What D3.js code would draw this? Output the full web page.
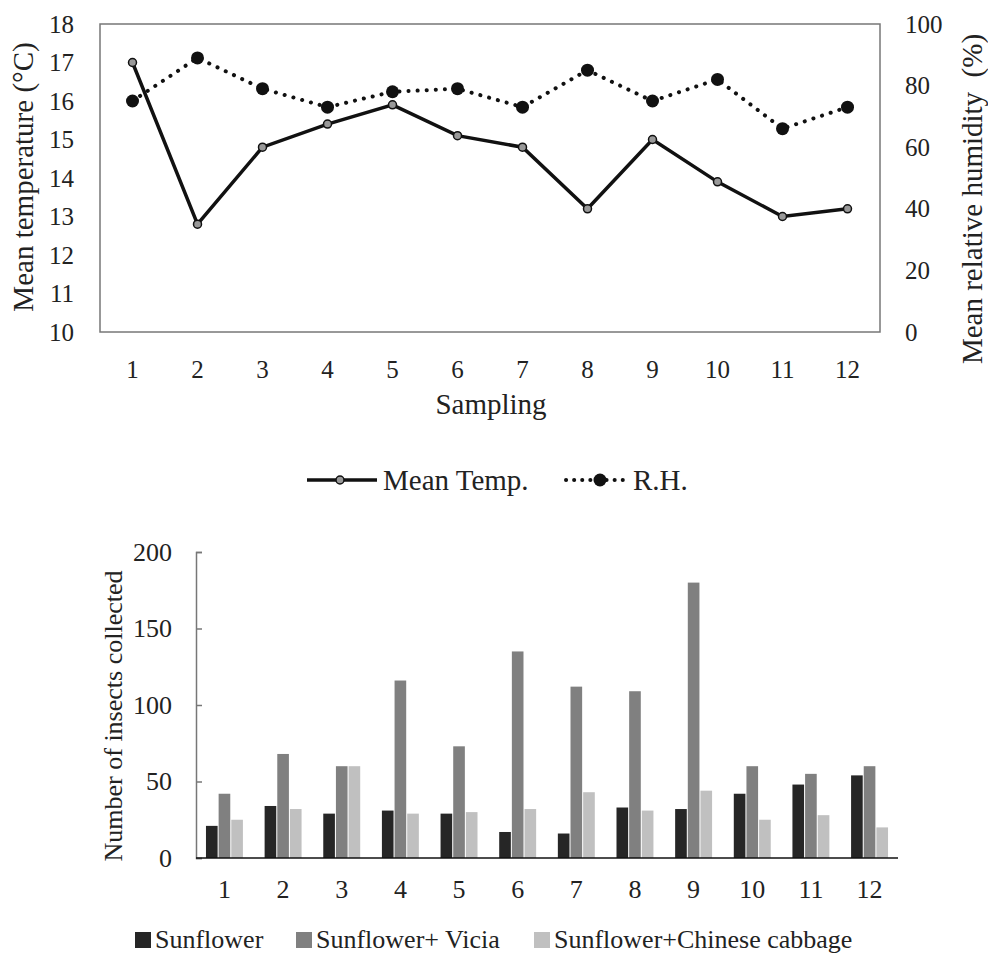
<!DOCTYPE html>
<html>
<head>
<meta charset="utf-8">
<script src="https://d3js.org/d3.v7.min.js"></script>
</head>
<body style="margin:0">
<script>
// ---- data ----
var samplings = ['1','2','3','4','5','6','7','8','9','10','11','12'];
var meanTemp = [17.0, 12.8, 14.8, 15.4, 15.9, 15.1, 14.8, 13.2, 15.0, 13.9, 13.0, 13.2];
var relHum   = [75, 89, 79, 73, 78, 79, 73, 85, 75, 82, 66, 73];

var tempTicks = [10, 11, 12, 13, 14, 15, 16, 17, 18];
var humTicks  = [0, 20, 40, 60, 80, 100];

var treatments = ['Sunflower', 'Sunflower+ Vicia', 'Sunflower+Chinese cabbage'];
var sunflower  = [21, 34, 29, 31, 29, 17, 16, 33, 32, 42, 48, 54];
var sunVicia   = [42, 68, 60, 116, 73, 135, 112, 109, 180, 60, 55, 60];
var sunCabbage = [25, 32, 60, 29, 30, 32, 43, 31, 44, 25, 28, 20];
var insectTicks = [0, 50, 100, 150, 200];
var barColors = ['#262626', '#808080', '#c0c0c0'];

var serif = '"Liberation Serif"';

var svg = d3.select('body').append('svg')
    .attr('width', 988)
    .attr('height', 954)
    .attr('font-family', 'Liberation Serif');

// ================= top chart =================
var box = { left: 100, right: 880, top: 24, bottom: 332 };

var x1 = d3.scaleBand().domain(samplings).range([box.left, box.right]);
var yT = d3.scaleLinear().domain([10, 18]).range([box.bottom, box.top]);
var yH = d3.scaleLinear().domain([0, 100]).range([box.bottom, box.top]);

svg.append('rect')
    .attr('x', box.left).attr('y', box.top)
    .attr('width', box.right - box.left).attr('height', box.bottom - box.top)
    .attr('fill', 'none').attr('stroke', '#777').attr('stroke-width', 1.5);

var axL = svg.append('g').attr('transform', 'translate(' + box.left + ',0)')
    .call(d3.axisLeft(yT).tickValues(tempTicks).tickSize(0).tickPadding(26));
var axR = svg.append('g').attr('transform', 'translate(' + box.right + ',0)')
    .call(d3.axisRight(yH).tickValues(humTicks).tickSize(0).tickPadding(25));
var axB = svg.append('g').attr('transform', 'translate(0,' + box.bottom + ')')
    .call(d3.axisBottom(x1).tickSize(0).tickPadding(28));
[axL, axR, axB].forEach(function (g) {
  g.attr('font-family', null);
  g.select('.domain').remove();
  g.selectAll('text').style('font-size', '25px');
});

svg.append('text')
    .attr('transform', 'translate(33,177) rotate(-90)')
    .attr('text-anchor', 'middle')
    .style('font-size', '29px')
    .text('Mean temperature (°C)');
svg.append('text')
    .attr('transform', 'translate(982,199) rotate(-90)')
    .attr('text-anchor', 'middle')
    .style('font-size', '29px')
    .style('white-space', 'pre')
    .text('Mean relative humidity  (%)');
svg.append('text')
    .attr('x', 491).attr('y', 414)
    .attr('text-anchor', 'middle')
    .style('font-size', '29px')
    .text('Sampling');

var cx = function (d, i) { return x1(samplings[i]) + x1.bandwidth() / 2; };

svg.append('path')
    .datum(relHum)
    .attr('fill', 'none').attr('stroke', '#111')
    .attr('stroke-width', 4).attr('stroke-linecap', 'round')
    .attr('stroke-dasharray', '0.1,9')
    .attr('d', d3.line().x(cx).y(function (d) { return yH(d); }));

svg.append('path')
    .datum(meanTemp)
    .attr('fill', 'none').attr('stroke', '#111').attr('stroke-width', 3.5)
    .attr('d', d3.line().x(cx).y(function (d) { return yT(d); }));

svg.selectAll('.rh').data(relHum).enter().append('circle')
    .attr('class', 'rh')
    .attr('cx', cx).attr('cy', function (d) { return yH(d); })
    .attr('r', 6.5).attr('fill', '#111');

svg.selectAll('.tp').data(meanTemp).enter().append('circle')
    .attr('class', 'tp')
    .attr('cx', cx).attr('cy', function (d) { return yT(d); })
    .attr('r', 4).attr('fill', '#999').attr('stroke', '#111').attr('stroke-width', 1.5);

// legend for the lines
var lg = svg.append('g').attr('transform', 'translate(0,480)');
lg.append('line').attr('x1', 307).attr('x2', 377).attr('stroke', '#111').attr('stroke-width', 3.5);
lg.append('circle').attr('cx', 340).attr('r', 4).attr('fill', '#999').attr('stroke', '#111').attr('stroke-width', 1.5);
lg.append('text').attr('x', 383).attr('y', 10).style('font-size', '29px').text('Mean Temp.');
lg.append('line').attr('x1', 566).attr('x2', 630).attr('stroke', '#111')
    .attr('stroke-width', 4).attr('stroke-linecap', 'round').attr('stroke-dasharray', '0.1,8');
lg.append('circle').attr('cx', 600).attr('r', 6.5).attr('fill', '#111');
lg.append('text').attr('x', 633).attr('y', 10).style('font-size', '29px').text('R.H.');

// ================= bottom chart =================
var bot = { left: 196, right: 898, top: 552, bottom: 858 };

var x2 = d3.scaleBand().domain(samplings).range([bot.left, bot.right]).paddingInner(0.37).paddingOuter(0.17);
var xs = d3.scaleBand().domain(treatments).range([0, x2.bandwidth()]).paddingInner(0.08);
var yN = d3.scaleLinear().domain([0, 200]).range([bot.bottom, bot.top]);

var series = [sunflower, sunVicia, sunCabbage];
var rows = [];
samplings.forEach(function (s, i) {
  treatments.forEach(function (t, j) {
    rows.push({ s: s, t: t, v: series[j][i], c: barColors[j] });
  });
});

svg.selectAll('.bar').data(rows).enter().append('rect')
    .attr('class', 'bar')
    .attr('x', function (d) { return x2(d.s) + xs(d.t); })
    .attr('width', xs.bandwidth())
    .attr('y', function (d) { return yN(d.v); })
    .attr('height', function (d) { return bot.bottom - yN(d.v); })
    .attr('fill', function (d) { return d.c; });

var axN = svg.append('g').attr('transform', 'translate(' + bot.left + ',0)')
    .call(d3.axisLeft(yN).tickValues(insectTicks).tickSizeInner(-6).tickSizeOuter(-6).tickPadding(24));
axN.attr('font-family', null);
axN.select('.domain').attr('stroke', '#777').attr('stroke-width', 1.5);
axN.selectAll('.tick line').attr('stroke', '#777').attr('stroke-width', 1.5);
axN.selectAll('text').style('font-size', '26px');

svg.append('line')
    .attr('x1', bot.left).attr('x2', bot.right)
    .attr('y1', bot.bottom).attr('y2', bot.bottom)
    .attr('stroke', '#111').attr('stroke-width', 1.5);

var axC = svg.append('g').attr('transform', 'translate(0,' + bot.bottom + ')')
    .call(d3.axisBottom(x2).tickSize(0).tickPadding(22));
axC.attr('font-family', null);
axC.select('.domain').remove();
axC.selectAll('text').style('font-size', '26px');

svg.append('text')
    .attr('transform', 'translate(122,716) rotate(-90)')
    .attr('text-anchor', 'middle')
    .style('font-size', '26px')
    .text('Number of insects collected');

// legend for the bars
var legX = [135, 296, 534];
var bl = svg.append('g').attr('transform', 'translate(0,948)');
treatments.forEach(function (t, j) {
  bl.append('rect').attr('x', legX[j]).attr('y', -16).attr('width', 16).attr('height', 16).attr('fill', barColors[j]);
  bl.append('text').attr('x', legX[j] + 20).attr('y', 0).style('font-size', '26px').text(t);
});

// serif everywhere, like the original figure
svg.selectAll('text').style('font-family', serif).attr('fill', '#222');
</script>
</body>
</html>
